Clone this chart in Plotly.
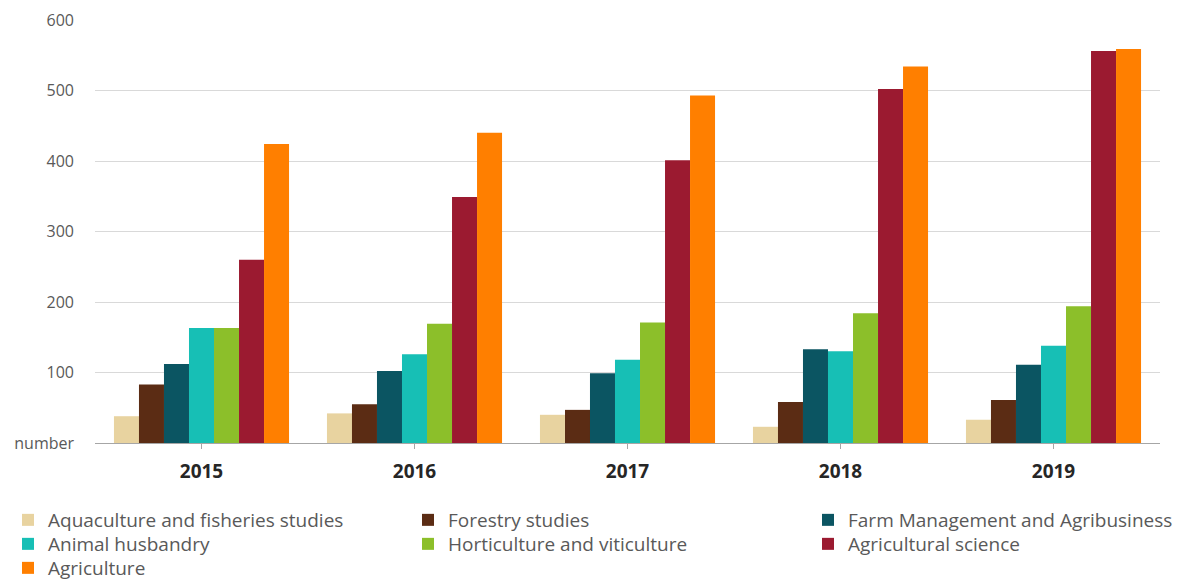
import plotly.graph_objects as go

years = ["2015", "2016", "2017", "2018", "2019"]

aquaculture = [38, 42, 40, 23, 33]
forestry = [83, 55, 47, 58, 61]
farm_mgmt = [112, 102, 99, 133, 111]
animal_husbandry = [163, 126, 118, 130, 138]
horticulture = [163, 169, 171, 184, 194]
agri_science = [260, 349, 401, 502, 556]
agriculture = [424, 440, 493, 534, 559]

series_names = [
    "Aquaculture and fisheries studies",
    "Forestry studies",
    "Farm Management and Agribusiness",
    "Animal husbandry",
    "Horticulture and viticulture",
    "Agricultural science",
    "Agriculture",
]
series_values = [aquaculture, forestry, farm_mgmt, animal_husbandry,
                 horticulture, agri_science, agriculture]
colors = ["#E8D3A0", "#5B2C14", "#0B5562", "#17BFB5", "#8CBF2A", "#9B1A30", "#FF7F00"]

y_tickvals = [0, 100, 200, 300, 400, 500, 600]
y_ticktext = ["number", "100", "200", "300", "400", "500", "600"]

FONT = "Open Sans"

# legend grid: 3 columns, entries fill row by row
col_px = [0, 400, 800]
row_center_px = [519, 543, 567]
LEG_OFFSET = 26

fig = go.Figure()
legend_layouts = {}
for i, (name, vals, col) in enumerate(zip(series_names, series_values, colors)):
    lid = "legend" if i == 0 else f"legend{i + 1}"
    fig.add_trace(go.Bar(x=years, y=vals, name=name, showlegend=True,
                         marker=dict(color=col, line=dict(width=0)), legend=lid))
    r, c = divmod(i, 3)
    legend_layouts[lid] = dict(
        orientation="v", xref="container", yref="container",
        xanchor="left", yanchor="top",
        x=col_px[c] / 1190, y=1 - (row_center_px[r] - LEG_OFFSET) / 580,
        font=dict(family=FONT, size=19, color="#595959"),
        bgcolor="rgba(0,0,0,0)", borderwidth=0,
    )

fig.update_layout(
    width=1190, height=580,
    showlegend=True,
    margin=dict(l=87, r=38, t=12, b=145, autoexpand=False),
    paper_bgcolor="white", plot_bgcolor="white",
    barmode="group", bargap=0.178, bargroupgap=0,
    font=dict(family=FONT, color="#595959"),
    xaxis=dict(
        showline=True, linecolor="#A6A6A6", linewidth=1,
        ticks="outside", ticklen=5, tickcolor="#A6A6A6",
        tickfont=dict(family=FONT, size=19, color="#262626", weight="bold"),
        ticklabelstandoff=6, tickangle=0,
        showgrid=False,
    ),
    yaxis=dict(
        range=[0, 600], tickvals=y_tickvals, ticktext=y_ticktext,
        showgrid=True, gridcolor="#D9D9D9", gridwidth=1,
        zeroline=False, showline=False, ticks="",
        tickfont=dict(family=FONT, size=16, color="#595959"),
        ticklabelstandoff=20,
    ),
    **legend_layouts,
)

fig.write_html("out.html")
